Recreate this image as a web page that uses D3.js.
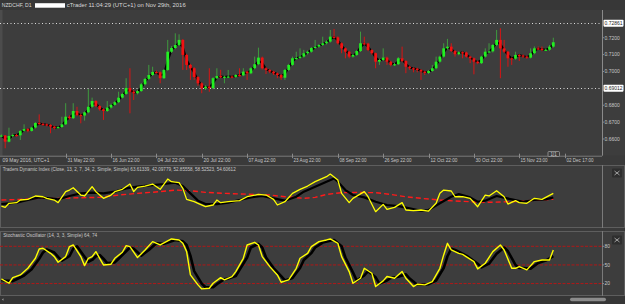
<!DOCTYPE html>
<html><head><meta charset="utf-8">
<script src="https://cdn.jsdelivr.net/npm/d3@7"></script>
<style>html,body{margin:0;padding:0;background:#3c3c3c;overflow:hidden}svg{display:block}</style>
</head><body>
<svg id="c" width="625" height="304"></svg>
<script>
// ---------- DATA ----------
const openP = [0.6618,0.6621,0.6584,0.6618,0.6624,0.6622,0.6648,0.6659,0.6648,0.6668,0.6695,0.6689,0.6687,0.6683,0.6673,0.6665,0.6671,0.6687,0.6732,0.6723,
0.6766,0.6742,0.6739,0.6758,0.6791,0.6825,0.6796,0.6776,0.6766,0.6786,0.6802,0.6818,0.6845,0.6867,0.6902,0.6880,0.6871,0.6884,0.6924,0.6956,
0.6979,0.6997,0.6995,0.6960,0.7009,0.7117,0.7139,0.7157,0.7187,0.7098,0.7039,0.7019,0.6967,0.6930,0.6900,0.6910,0.6901,0.6960,0.6973,0.6966,
0.6969,0.6970,0.6968,0.6979,0.6977,0.6999,0.6989,0.7019,0.7043,0.7082,0.7019,0.7009,0.6999,0.6989,0.6979,0.6963,0.7009,0.7039,0.7078,0.7080,
0.7088,0.7108,0.7117,0.7139,0.7147,0.7157,0.7167,0.7177,0.7206,0.7202,0.7167,0.7137,0.7117,0.7088,0.7098,0.7121,0.7167,0.7165,0.7127,0.7108,
0.7058,0.7068,0.7082,0.7058,0.7039,0.7043,0.7078,0.7062,0.7028,0.7019,0.7017,0.7009,0.6999,0.6991,0.7003,0.7019,0.7058,0.7088,0.7137,0.7147,
0.7121,0.7102,0.7114,0.7112,0.7088,0.7078,0.7058,0.7049,0.7088,0.7117,0.7119,0.7157,0.7187,0.7137,0.7117,0.7078,0.7076,0.7098,0.7095,0.7088,
0.7082,0.7108,0.7137,0.7135,0.7127,0.7129,0.7147];
const closeP = [0.6621,0.6584,0.6618,0.6624,0.6622,0.6648,0.6659,0.6648,0.6668,0.6695,0.6689,0.6687,0.6683,0.6673,0.6665,0.6671,0.6687,0.6732,0.6723,0.6766,
0.6742,0.6739,0.6758,0.6791,0.6825,0.6796,0.6776,0.6766,0.6786,0.6802,0.6818,0.6845,0.6867,0.6902,0.6880,0.6871,0.6884,0.6924,0.6956,0.6979,
0.6997,0.6995,0.6960,0.7009,0.7117,0.7139,0.7157,0.7187,0.7098,0.7039,0.7019,0.6967,0.6930,0.6900,0.6910,0.6901,0.6960,0.6973,0.6966,0.6969,
0.6970,0.6968,0.6979,0.6977,0.6999,0.6989,0.7019,0.7043,0.7082,0.7019,0.7009,0.6999,0.6989,0.6979,0.6963,0.7009,0.7039,0.7078,0.7080,0.7088,
0.7108,0.7117,0.7139,0.7147,0.7157,0.7167,0.7177,0.7206,0.7202,0.7167,0.7137,0.7117,0.7088,0.7098,0.7121,0.7167,0.7165,0.7127,0.7108,0.7058,
0.7068,0.7082,0.7058,0.7039,0.7043,0.7078,0.7062,0.7028,0.7019,0.7017,0.7009,0.6999,0.6991,0.7003,0.7019,0.7058,0.7088,0.7137,0.7147,0.7121,
0.7102,0.7114,0.7112,0.7088,0.7078,0.7058,0.7049,0.7088,0.7117,0.7119,0.7157,0.7187,0.7137,0.7117,0.7078,0.7076,0.7098,0.7095,0.7088,0.7082,
0.7108,0.7137,0.7135,0.7127,0.7129,0.7147,0.7173];
const highP = [0.6628,0.6624,0.6667,0.6632,0.6630,0.6652,0.6687,0.6664,0.6672,0.6700,0.6746,0.6697,0.6692,0.6688,0.6678,0.6676,0.6732,0.6812,0.6740,0.6812,
0.6791,0.6750,0.6764,0.6896,0.6845,0.6830,0.6800,0.6781,0.6825,0.6810,0.6826,0.6880,0.6874,0.6960,0.7019,0.6890,0.6892,0.6932,0.6963,0.7039,
0.7028,0.7005,0.7000,0.7015,0.7187,0.7150,0.7226,0.7220,0.7192,0.7105,0.7045,0.7025,0.6972,0.6936,0.6918,0.7019,0.6966,0.7019,0.7010,0.6975,
0.7009,0.6976,0.6985,0.7019,0.7019,0.7004,0.7025,0.7088,0.7141,0.7088,0.7025,0.7014,0.7004,0.6994,0.6984,0.7015,0.7045,0.7088,0.7117,0.7137,
0.7128,0.7124,0.7145,0.7187,0.7163,0.7206,0.7185,0.7246,0.7252,0.7208,0.7172,0.7142,0.7122,0.7104,0.7128,0.7236,0.7206,0.7170,0.7132,0.7112,
0.7075,0.7137,0.7088,0.7063,0.7050,0.7085,0.7147,0.7067,0.7033,0.7024,0.7022,0.7014,0.7004,0.7009,0.7039,0.7088,0.7094,0.7167,0.7193,0.7167,
0.7127,0.7120,0.7119,0.7117,0.7093,0.7083,0.7063,0.7093,0.7137,0.7167,0.7163,0.7246,0.7256,0.7187,0.7122,0.7083,0.7117,0.7103,0.7100,0.7093,
0.7137,0.7148,0.7148,0.7148,0.7135,0.7157,0.7200];
const lowP = [0.6612,0.6545,0.6580,0.6610,0.6614,0.6594,0.6644,0.6640,0.6644,0.6662,0.6684,0.6680,0.6675,0.6634,0.6656,0.6660,0.6666,0.6683,0.6716,0.6719,
0.6735,0.6693,0.6709,0.6752,0.6785,0.6788,0.6768,0.6713,0.6760,0.6780,0.6797,0.6812,0.6840,0.6862,0.6752,0.6831,0.6864,0.6879,0.6918,0.6950,
0.6973,0.6988,0.6930,0.6955,0.7003,0.7110,0.7132,0.7150,0.7009,0.7009,0.6950,0.6950,0.6915,0.6871,0.6890,0.6880,0.6895,0.6955,0.6960,0.6930,
0.6962,0.6960,0.6962,0.6970,0.6972,0.6950,0.6984,0.7013,0.7037,0.7012,0.6985,0.6990,0.6979,0.6960,0.6950,0.6950,0.7003,0.7033,0.7070,0.7074,
0.7082,0.7100,0.7111,0.7133,0.7140,0.7151,0.7160,0.7171,0.7195,0.7160,0.7108,0.7078,0.7078,0.7082,0.7092,0.7115,0.7158,0.7120,0.7100,0.7019,
0.7039,0.7062,0.7039,0.7030,0.7033,0.7038,0.7055,0.6990,0.7010,0.6995,0.6995,0.6950,0.6979,0.6985,0.6998,0.7013,0.7052,0.7082,0.7130,0.7115,
0.7088,0.7096,0.7078,0.7082,0.7049,0.6983,0.7043,0.7044,0.7082,0.7110,0.7112,0.7150,0.6960,0.7110,0.7028,0.7039,0.7070,0.7062,0.7080,0.7075,
0.7077,0.7102,0.7128,0.7120,0.7121,0.7123,0.7141];

const priceTicks = [0.72, 0.71, 0.70, 0.68, 0.67, 0.66];
const markedLevels = [0.72861, 0.69012];
const timeTickIdx = [17, 29, 41, 53, 65, 77, 89, 101, 113, 125, 137, 149];
const timeTickLabels = ["31 May 22:00","16 Jun 22:00","04 Jul 22:00","20 Jul 22:00","07 Aug 22:00","23 Aug 22:00",
  "08 Sep 22:00","26 Sep 22:00","12 Oct 22:00","30 Oct 22:00","15 Nov 23:00","02 Dec 17:00"];

// Traders Dynamic Index lines (candle index, value)
const tdiPriceIdx = [0,1,2,4,5,7,9,11,12,14,15,17,18,19,21,22,24,25,27,29,30,32,34,35,36,38,40,42,44,45,47,48,49,51,52,54,56,57,58,60,63,65,68,70,72,73,75,77,79,81,83,86,87,89,90,92,93,96,97,99,101,102,104,106,107,109,111,113,115,116,117,119,120,122,124,126,128,129,131,133,134,136,137,139,141,143,144,146];
const tdiPrice = [46.5,45.3,49.1,49.7,52.2,52.8,56.0,55.3,53.8,52.2,49.7,60.1,61.6,63.8,56.9,56.0,64.8,60.1,53.8,56.9,60.1,62.3,67.3,60.1,64.1,65.4,67.3,62.3,72.0,69.5,68.6,63.2,52.8,50.6,49.1,45.9,47.5,52.2,49.7,50.6,51.6,55.3,57.5,56.9,52.8,47.5,50.6,58.5,62.3,65.4,69.5,74.2,76.7,71.1,58.5,49.7,53.8,60.1,55.3,41.2,48.1,43.4,45.3,49.7,42.8,42.1,42.8,41.8,49.1,58.5,61.6,60.7,55.3,55.3,53.8,45.9,56.9,56.0,61.0,55.3,48.4,51.6,49.7,49.1,53.8,52.8,54.7,58.5];
const tdiSignalIdx = [0,4,7,10,13,15,18,21,24,27,30,33,36,40,43,46,48,50,52,54,57,60,63,66,69,72,75,78,80,83,86,88,89,91,93,96,99,102,105,108,111,113,116,119,121,124,126,128,131,135,138,141,144,146];
const tdiSignal = [48.4,49.7,52.2,54.7,53.8,52.8,56.0,58.5,59.1,58.5,60.1,63.2,64.8,66.3,67.3,68.6,65.4,58.5,51.6,48.4,48.4,49.7,52.2,54.7,56.0,53.8,51.6,55.3,60.1,64.8,69.5,72.6,69.5,61.6,56.9,54.7,50.6,47.5,46.5,44.3,42.1,42.8,49.1,55.3,57.9,54.7,50.6,51.6,56.0,52.8,50.6,52.2,52.8,54.6];
const tdiBaseIdx = [0,5,10,15,21,26,31,36,42,46,50,54,59,63,67,71,75,80,83,86,90,94,99,103,107,111,116,120,124,128,132,137,141,146];
const tdiBase = [52.2,52.8,53.8,53.8,54.4,54.7,56.9,58.5,60.1,61.6,61.0,59.4,58.5,57.9,57.5,56.9,55.3,53.8,54.7,57.5,59.1,59.4,59.1,57.5,55.3,53.8,52.2,51.3,50.6,50.0,50.3,50.9,51.9,52.9];

// Stochastic oscillator lines (candle index, value)
const stochKIdx = [0,2,3,5,7,9,10,11,13,14,15,17,18,19,21,22,23,24,25,26,27,29,30,32,33,34,36,38,40,42,44,45,47,48,49,50,52,53,55,56,58,59,61,62,64,65,67,68,69,71,73,74,76,78,79,81,82,84,86,87,89,90,92,93,95,96,98,99,101,102,104,106,107,109,110,112,114,116,117,118,119,121,122,125,126,128,130,132,133,135,136,137,139,141,143,145,146];
const stochK = [27.5,20.5,29.6,33.9,44.6,60.7,75.7,76.8,68.7,63.4,54.3,63.4,79.5,82.1,63.4,48.9,60.7,63.4,71.4,60.7,50.0,51.1,60.7,70.4,81.1,79.5,61.8,74.1,87.5,82.1,88.6,91.8,90.2,84.8,71.4,33.9,17.9,11.4,12.5,20.5,29.6,25.9,31.3,39.3,60.7,82.1,86.4,82.1,63.4,47.3,33.9,22.1,25.9,44.6,60.7,68.7,79.5,87.5,90.2,91.8,84.8,63.4,39.3,20.5,28.6,44.6,36.6,15.2,24.3,31.3,28.6,39.3,28.6,15.2,18.9,17.9,23.2,44.6,66.1,84.8,74.1,68.7,67.1,55.4,43.6,52.7,71.4,82.1,74.1,44.6,44.6,47.3,42.0,55.4,58.0,58.0,74.1];
const stochDIdx = [0,1,3,4,6,8,10,11,12,14,15,16,18,19,20,22,23,24,25,26,27,28,30,31,33,34,35,37,39,41,43,45,46,48,49,50,51,53,54,56,57,59,60,62,63,65,66,68,69,70,72,74,75,77,79,80,82,83,85,87,88,90,91,93,94,96,97,99,100,102,103,105,107,108,110,111,113,115,117,118,119,120,122,123,126,127,129,131,133,134,136,137,138,140,142,144,146];
const stochD = [26,25,24,27,33,43,60,70,75,70,63,57,64,76,80,63,55,58,64,66,60,53,54,60,72,78,76,65,74,85,84,88,90,88,82,65,40,20,14,14,19,27,28,32,42,62,78,84,78,62,45,32,25,29,45,58,69,78,86,89,90,80,62,38,25,33,40,30,20,25,29,31,35,28,18,18,19,25,45,64,76,74,68,65,52,46,52,68,78,72,50,45,45,44,53,57,64];
const stochLevels = [80, 50, 20];

// ---------- LAYOUT ----------
const svg = d3.select("#c");
const BG = "#3d3d3d", FRAME = "#5e5e5e", TXT = "#c8c8c8";
const FONT = "Liberation Sans, Arial, sans-serif";
const AX = 602;          // right edge of the plotting area
const main = {top: 10, bottom: 155.7};
const tdiP = {top: 165, bottom: 228};
const stP = {top: 231, bottom: 296};

svg.append("rect").attr("width", 625).attr("height", 304).attr("fill", "#3a3a3a");
svg.append("rect").attr("x", 0).attr("y", 0).attr("width", 625).attr("height", main.top).attr("fill", "#373737");
[[main.top, main.bottom], [tdiP.top, tdiP.bottom], [stP.top, stP.bottom]].forEach(([a, b]) =>
  svg.append("rect").attr("x", 0).attr("y", a).attr("width", 625).attr("height", b - a).attr("fill", BG));
svg.append("rect").attr("x", 0).attr("y", main.top).attr("width", 2.5).attr("height", main.bottom - main.top).attr("fill", "#4c4c4c");

const x = d3.scaleLinear().domain([0, openP.length - 1]).range([1.4, 553.3]);
const yP = d3.scaleLinear().domain([0.65011, 0.73641]).range([main.bottom, main.top]);
const yT = d3.scaleLinear().domain([25.8, 84.3]).range([tdiP.bottom, tdiP.top + 1]);
const yS = d3.scaleLinear().domain([0, 104.6]).range([stP.bottom, stP.top]);

const defs = svg.append("defs");
defs.append("clipPath").attr("id", "cm").append("rect").attr("x", 0).attr("y", main.top).attr("width", AX).attr("height", main.bottom - main.top);
defs.append("clipPath").attr("id", "ct").append("rect").attr("x", 0).attr("y", tdiP.top).attr("width", AX).attr("height", tdiP.bottom - tdiP.top);
defs.append("clipPath").attr("id", "cs").append("rect").attr("x", 0).attr("y", stP.top).attr("width", AX).attr("height", stP.bottom - stP.top);

// ---------- TITLE ----------
svg.append("text").attr("x", 1.7).attr("y", 7).attr("font-family", FONT).attr("font-size", 5.6).attr("fill", "#d8d8d8")
  .attr("textLength", 30).attr("lengthAdjust", "spacingAndGlyphs").text("NZDCHF, D1");
svg.append("rect").attr("x", 35).attr("y", 3.2).attr("width", 30).attr("height", 4.5).attr("fill", "#ffffff");
svg.append("text").attr("x", 66.7).attr("y", 7).attr("font-family", FONT).attr("font-size", 5.6).attr("fill", "#d8d8d8")
  .attr("textLength", 119).attr("lengthAdjust", "spacingAndGlyphs").text("cTrader 11:04:29 (UTC+1) on Nov 29th, 2016");

// ---------- MAIN PRICE PANEL ----------
const gm = svg.append("g").attr("clip-path", "url(#cm)");
markedLevels.forEach(v => {
  gm.append("line").attr("x1", 0).attr("x2", AX).attr("y1", Math.round(yP(v)) + 0.5).attr("y2", Math.round(yP(v)) + 0.5)
    .attr("stroke", "#dcdcdc").attr("stroke-width", 1).attr("stroke-dasharray", "1,2.5");
});
const candles = d3.range(openP.length).map(i => ({i, o: openP[i], h: highP[i], l: lowP[i], c: closeP[i]}));
// black mid-body line (behind the candles)
gm.append("path").datum(candles)
  .attr("d", d3.line().x(d => x(d.i)).y(d => yP((d.o + d.c) / 2)))
  .attr("fill", "none").attr("stroke", "#000").attr("stroke-width", 2).attr("stroke-linejoin", "round");
const cg = gm.append("g");
cg.selectAll("line.w").data(candles).join("line").attr("class", "w")
  .attr("x1", d => x(d.i)).attr("x2", d => x(d.i))
  .attr("y1", d => yP(d.h)).attr("y2", d => yP(d.l))
  .attr("stroke", d => d.c >= d.o ? "#3f9a3f" : "#d81414").attr("stroke-width", 1);
cg.selectAll("rect.b").data(candles).join("rect").attr("class", "b")
  .attr("x", d => x(d.i) - 1.4).attr("width", 2.8)
  .attr("y", d => yP(Math.max(d.o, d.c)))
  .attr("height", d => Math.max(1.2, Math.abs(yP(d.o) - yP(d.c))))
  .attr("fill", d => d.c >= d.o ? "#22f022" : "#f21212");

// price axis
svg.append("line").attr("x1", AX + 0.5).attr("x2", AX + 0.5).attr("y1", main.top).attr("y2", main.bottom).attr("stroke", "#8a8a8a");
priceTicks.forEach(v => {
  const yy = yP(v);
  svg.append("line").attr("x1", AX).attr("x2", AX + 2).attr("y1", yy).attr("y2", yy).attr("stroke", "#8a8a8a");
  svg.append("text").attr("x", AX + 2.5).attr("y", yy + 1.8).attr("font-family", FONT).attr("font-size", 5)
    .attr("fill", TXT).text(d3.format(".4f")(v));
});
markedLevels.forEach(v => {
  const yy = yP(v);
  svg.append("rect").attr("x", AX + 1.5).attr("y", yy - 3.5).attr("width", 20).attr("height", 7).attr("fill", "#ffffff").attr("rx", 0.8);
  svg.append("text").attr("x", AX + 2.5).attr("y", yy + 1.8).attr("font-family", FONT).attr("font-size", 5)
    .attr("fill", "#222").attr("textLength", 18).attr("lengthAdjust", "spacingAndGlyphs").text(v.toFixed(5));
});

// time axis
svg.append("line").attr("x1", 0).attr("x2", AX).attr("y1", main.bottom + 0.5).attr("y2", main.bottom + 0.5).attr("stroke", "#7a7a7a");
svg.append("text").attr("x", 2.5).attr("y", 161.8).attr("font-family", FONT).attr("font-size", 5)
  .attr("fill", TXT).attr("textLength", 47).attr("lengthAdjust", "spacingAndGlyphs").text("09 May 2016, UTC+1");
timeTickIdx.forEach((ti, k) => {
  const xx = Math.round(x(ti)) + 0.5;
  svg.append("line").attr("x1", xx).attr("x2", xx).attr("y1", main.bottom - 2).attr("y2", main.bottom + 2.5).attr("stroke", "#8a8a8a");
  svg.append("text").attr("x", xx + 1).attr("y", 161.8).attr("font-family", FONT).attr("font-size", 5)
    .attr("fill", TXT).attr("textLength", 27).attr("lengthAdjust", "spacingAndGlyphs").text(timeTickLabels[k]);
});
svg.append("rect").attr("x", 548).attr("y", 151.5).attr("width", 11.5).attr("height", 5).attr("fill", BG)
  .attr("stroke", "#aaaaaa").attr("stroke-width", 0.7).attr("rx", 1);
svg.append("text").attr("x", 553.7).attr("y", 155.6).attr("text-anchor", "middle").attr("font-family", FONT)
  .attr("font-size", 4.5).attr("fill", "#cccccc").text("1|1");

// ---------- PANEL FRAMES ----------
function frame(p) {
  svg.append("rect").attr("x", 0.5).attr("y", p.top + 0.5).attr("width", 624).attr("height", p.bottom - p.top - 1)
    .attr("fill", "none").attr("stroke", FRAME);
  svg.append("line").attr("x1", AX + 0.5).attr("x2", AX + 0.5).attr("y1", p.top).attr("y2", p.bottom).attr("stroke", "#7a7a7a");
}
function closeBtn(yTop) {
  svg.append("rect").attr("x", 612).attr("y", yTop).attr("width", 10).attr("height", 9).attr("fill", "#2e2e2e").attr("rx", 1);
  svg.append("path").attr("d", `M614.5,${yTop + 2.5}L619.5,${yTop + 6.5}M619.5,${yTop + 2.5}L614.5,${yTop + 6.5}`)
    .attr("stroke", "#bbbbbb").attr("stroke-width", 0.8);
}
frame(tdiP); frame(stP);
closeBtn(168.5); closeBtn(235.5);

// ---------- TDI PANEL ----------
svg.append("text").attr("x", 2.7).attr("y", 170.8).attr("font-family", FONT).attr("font-size", 5)
  .attr("fill", TXT).attr("textLength", 233).attr("lengthAdjust", "spacingAndGlyphs")
  .text("Traders Dynamic Index (Close, 13, 2, 7, 34, 2, Simple, Simple) 63.61339, 42.09779, 52.85558, 58.52523, 54.60612");
const gt = svg.append("g").attr("clip-path", "url(#ct)");
const lineT = (idx, vals) => d3.line().x((d, k) => x(idx[k])).y(d => yT(d))(vals);
gt.append("path").attr("d", lineT(tdiBaseIdx, tdiBase)).attr("fill", "none").attr("stroke", "#ff1a1a")
  .attr("stroke-width", 1.4).attr("stroke-dasharray", "5,3");
gt.append("path").attr("d", lineT(tdiSignalIdx, tdiSignal)).attr("fill", "none").attr("stroke", "#000")
  .attr("stroke-width", 2.2).attr("stroke-linejoin", "round");
gt.append("path").attr("d", lineT(tdiPriceIdx, tdiPrice)).attr("fill", "none").attr("stroke", "#ffff00")
  .attr("stroke-width", 1.3).attr("stroke-linejoin", "round");

// ---------- STOCHASTIC PANEL ----------
svg.append("text").attr("x", 3.2).attr("y", 236.8).attr("font-family", FONT).attr("font-size", 5)
  .attr("fill", TXT).attr("textLength", 94).attr("lengthAdjust", "spacingAndGlyphs")
  .text("Stochastic Oscillator (14, 3, 3, Simple) 64, 74");
const gs = svg.append("g").attr("clip-path", "url(#cs)");
stochLevels.forEach(v => {
  gs.append("line").attr("x1", 0).attr("x2", AX).attr("y1", yS(v)).attr("y2", yS(v))
    .attr("stroke", "#b01818").attr("stroke-width", 1).attr("stroke-dasharray", "3,1.5");
  svg.append("line").attr("x1", AX).attr("x2", AX + 2).attr("y1", yS(v)).attr("y2", yS(v)).attr("stroke", "#8a8a8a");
  svg.append("text").attr("x", AX + 2.5).attr("y", yS(v) + 1.8).attr("font-family", FONT).attr("font-size", 5)
    .attr("fill", TXT).text(v);
});
const lineS = (idx, vals) => d3.line().x((d, k) => x(idx[k])).y(d => yS(d))(vals);
gs.append("path").attr("d", lineS(stochDIdx, stochD)).attr("fill", "none").attr("stroke", "#000")
  .attr("stroke-width", 2.6).attr("stroke-linejoin", "round");
gs.append("path").attr("d", lineS(stochKIdx, stochK)).attr("fill", "none").attr("stroke", "#ffff00")
  .attr("stroke-width", 1.4).attr("stroke-linejoin", "round");

// ---------- SCROLL BAR ----------
svg.append("rect").attr("x", 0).attr("y", 296).attr("width", 625).attr("height", 8).attr("fill", "#363636");
svg.append("rect").attr("x", 570).attr("y", 297.8).attr("width", 36).attr("height", 3.4).attr("rx", 1.7).attr("fill", "#8c8c8c");
svg.append("path").attr("d", "M3.5,298.3L1.8,299.5L3.5,300.7Z").attr("fill", "#999");
</script>
</body></html>
